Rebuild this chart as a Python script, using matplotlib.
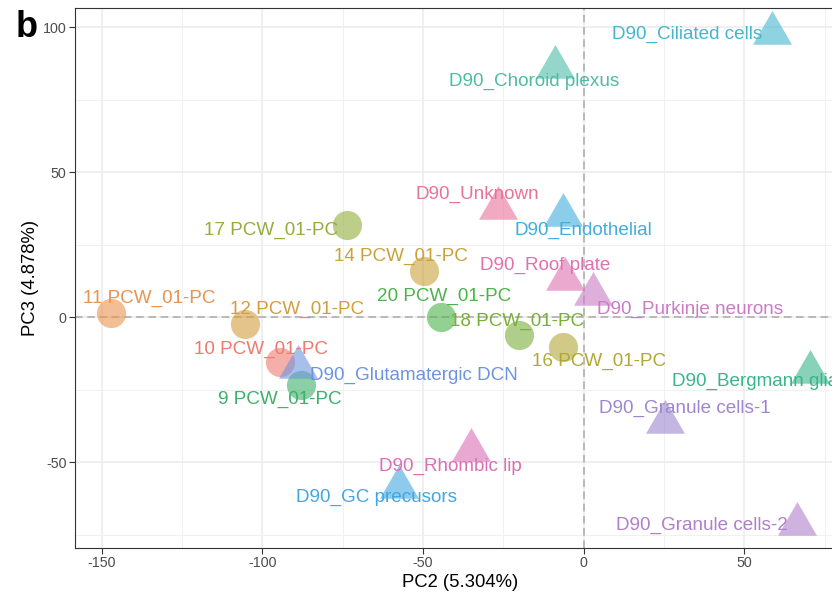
import numpy as np
import matplotlib
matplotlib.use("Agg")
import matplotlib.pyplot as plt

plt.rcParams['font.family'] = ['Liberation Sans', 'DejaVu Sans']
plt.rcParams['axes.unicode_minus'] = False

# ---- PCA coordinates ----
# fetal samples (circles)
pcw_names = ["11 PCW_01-PC", "12 PCW_01-PC", "10 PCW_01-PC", "9 PCW_01-PC",
             "17 PCW_01-PC", "14 PCW_01-PC", "20 PCW_01-PC", "18 PCW_01-PC",
             "16 PCW_01-PC"]
pcw_pc2 = [-147.1, -105.4, -94.6, -88.1, -73.6, -49.8, -44.4, -20.0, -6.5]
pcw_pc3 = [1.6, -2.1, -15.3, -23.3, 31.8, 16.1, 0.2, -6.1, -10.1]
pcw_colors = ["#E8934F", "#D29E3E", "#EC7A6E", "#3DB06A", "#92AE3C",
              "#C9A23B", "#4CB34A", "#7AAE3A", "#B1A736"]

# D90 organoid cell types (triangles)
d90_names = ["D90_Ciliated cells", "D90_Choroid plexus", "D90_Unknown",
             "D90_Endothelial", "D90_Roof plate", "D90_Purkinje neurons",
             "D90_Bergmann glia", "D90_Granule cells-1", "D90_Rhombic lip",
             "D90_GC precusors", "D90_Granule cells-2", "D90_Glutamatergic DCN"]
d90_pc2 = [58.5, -8.9, -26.7, -6.5, -5.8, 3.0, 70.3, 25.2, -35.0, -57.6, 66.3, -88.9]
d90_pc3 = [98.1, 86.4, 37.8, 35.3, 13.3, 8.0, -18.9, -35.9, -45.6, -58.4, -71.4, -17.0]
d90_colors = ["#45B5CF", "#4DBBA8", "#E8729A", "#3FAEDC", "#E070B0", "#C97BC4",
              "#38B58A", "#9E86D0", "#DB6FB5", "#41A7E0", "#B07FCB", "#6C95DE"]

# label offsets (data units) from each point
pcw_lab_dx = [12.0, 16.2, -5.9, -6.6, -23.7, -7.2, 0.9, -0.6, 11.3]
pcw_lab_dy = [5.0, 4.9, 4.3, -4.9, -1.9, 5.0, 7.1, 4.6, -5.2]
d90_lab_dx = [-26.4, -6.4, -6.4, 6.4, -6.2, 30.1, -17.1, 6.2, -6.5, -6.8, -29.6, 36.1]
d90_lab_dy = [-0.5, -5.0, 4.7, -5.4, 4.5, -5.2, -3.3, 4.5, -5.6, -3.7, -0.2, -2.9]

# equilateral triangle centred on its centroid (like R pch 17)
tri = [(0, 1.0), (-0.866, -0.5), (0.866, -0.5), (0, 1.0)]

fig = plt.figure(figsize=(8.32, 5.97), dpi=100)
ax = fig.add_axes([0.0901, 0.0826, 0.925, 0.9035])

ax.set_xlim(-158.3, 81.2)
ax.set_ylim(-79.4, 106.6)

ax.set_xticks([-150, -100, -50, 0, 50])
ax.set_yticks([-50, 0, 50, 100])
ax.set_xticks([-125, -75, -25, 25, 75], minor=True)
ax.set_yticks([-75, -25, 25, 75], minor=True)
ax.grid(which='major', color='#EBEBEB', lw=1.1, zorder=0)
ax.grid(which='minor', color='#F0F0F0', lw=0.7, zorder=0)
ax.tick_params(which='minor', length=0)
ax.tick_params(which='major', length=4, width=0.8, color='#333333',
               labelsize=10.3, labelcolor='#4D4D4D', pad=2)
ax.set_axisbelow(True)
for sp in ax.spines.values():
    sp.set_color('#333333')
    sp.set_linewidth(0.8)

ax.axhline(0, color='#AAAAAA', lw=1.1, ls=(0, (5, 3)), zorder=1)
ax.axvline(0, color='#AAAAAA', lw=1.1, ls=(0, (5, 3)), zorder=1)

for x, y, c in zip(pcw_pc2, pcw_pc3, pcw_colors):
    ax.plot(x, y, 'o', ms=21, color=c, alpha=0.6, mec='none', zorder=2)
for x, y, c in zip(d90_pc2, d90_pc3, d90_colors):
    ax.plot(x, y, marker=tri, ms=32.4, color=c, alpha=0.6, mec='none', zorder=2)

for name, x, y, dx, dy, c in zip(pcw_names, pcw_pc2, pcw_pc3, pcw_lab_dx, pcw_lab_dy, pcw_colors):
    ax.text(x + dx, y + dy, name, color=c, fontsize=13.6, ha='center', va='center', zorder=3)
for name, x, y, dx, dy, c in zip(d90_names, d90_pc2, d90_pc3, d90_lab_dx, d90_lab_dy, d90_colors):
    ax.text(x + dx, y + dy, name, color=c, fontsize=13.6, ha='center', va='center',
            zorder=3, clip_on=False)

ax.set_xlabel("PC2 (5.304%)", fontsize=13.3, labelpad=3)
ax.set_ylabel("PC3 (4.878%)", fontsize=13.3, labelpad=3)

fig.text(16 / 832, 1 - 37 / 597, "b", fontsize=26, fontweight='bold', va='baseline')

fig.savefig("out.png", dpi=100)
